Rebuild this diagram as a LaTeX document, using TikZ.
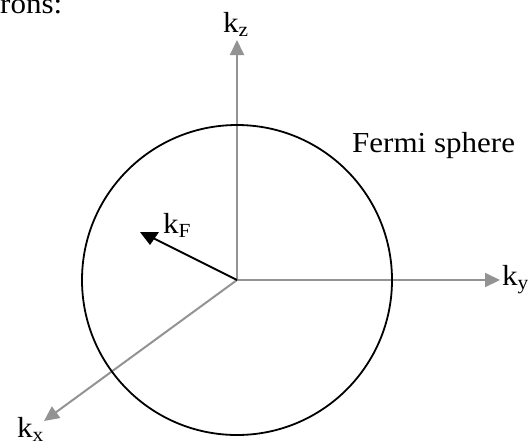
\documentclass[tikz,border=0pt]{standalone}
\usepackage{fontspec}
\setmainfont{Liberation Serif}[FakeStretch=1.07]
\usetikzlibrary{arrows.meta}
\newcommand\subtxt[1]{\raisebox{-4pt}{\fontsize{20}{20}\selectfont #1}}
\begin{document}
\begin{tikzpicture}[x=1pt,y=-1pt,
  axis/.style={draw=axisgray,line width=2pt,-{Triangle[length=15pt,width=14pt]}},
  lbl/.style={inner sep=0pt,anchor=base west,font=\fontsize{29}{31}\selectfont},
  sph/.style={draw=black,line width=1.8pt}]
\definecolor{axisgray}{HTML}{939393}
\useasboundingbox (0,0) rectangle (532,445);
\coordinate (O) at (237,280);
\coordinate (zt) at (237,40);
\coordinate (yt) at (500,280);
\coordinate (xt) at (44,421);
\coordinate (fe) at (151,237);
\draw[axis] (O) -- (zt);
\draw[axis] (O) -- (yt);
\draw[axis] (O) -- (xt);
\draw[sph] (O) circle[radius=155];
\draw[black,line width=2pt] (O) -- (fe);
\fill[black] (140,232) -- (159,232) -- (150,245) -- cycle;
\node[lbl] (kz) at (223,32) {k\subtxt{z}};
\node[lbl] (ky) at (502,285) {k\subtxt{y}};
\node[lbl] (kx) at (17,437) {k\subtxt{x}};
\node[lbl] (kf) at (163,233) {k\subtxt{F}};
\node[lbl] (fs) at (352,152) {Fermi sphere};
\node[lbl] (rons) at (0,13) {rons:};
\end{tikzpicture}
\end{document}
